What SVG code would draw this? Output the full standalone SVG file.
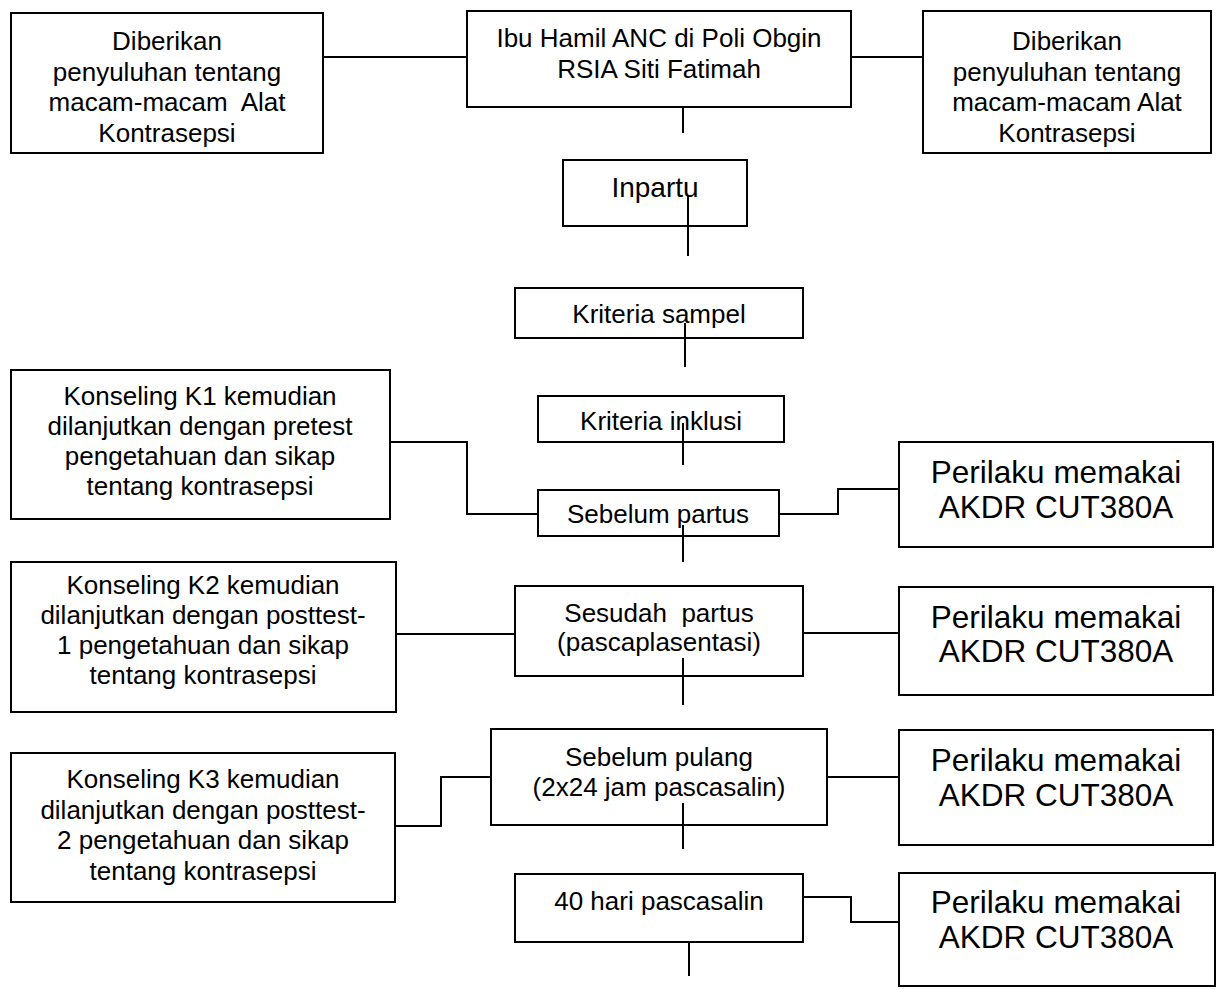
<svg xmlns="http://www.w3.org/2000/svg" width="1220" height="989" viewBox="0 0 1220 989">
<style>
rect{fill:#fff;stroke:#000;stroke-width:2}
.c path,.c line{fill:none;stroke:#000;stroke-width:2}
text{font-family:"Liberation Sans",Arial,sans-serif;font-size:26px;fill:#000;text-anchor:middle}
.big{font-size:31.5px}
.mid{font-size:28px}
</style>
<rect x="0" y="0" width="1220" height="989" style="stroke:none"/>
<g id="n_diberikan_left"><rect x="11" y="13" width="312" height="140"/>
<text x="167"><tspan x="167" y="50">Diberikan</tspan><tspan x="167" y="80.5">penyuluhan tentang</tspan><tspan x="167" y="111" xml:space="preserve">macam-macam  Alat</tspan><tspan x="167" y="141.5">Kontrasepsi</tspan></text></g>
<g id="n_ibu"><rect x="467" y="11" width="384" height="96"/>
<text><tspan x="659" y="47">Ibu Hamil ANC di Poli Obgin</tspan><tspan x="659" y="78">RSIA Siti Fatimah</tspan></text></g>
<g id="n_diberikan_right"><rect x="923" y="11" width="288" height="142"/>
<text><tspan x="1067" y="50">Diberikan</tspan><tspan x="1067" y="80.5">penyuluhan tentang</tspan><tspan x="1067" y="111">macam-macam Alat</tspan><tspan x="1067" y="141.5">Kontrasepsi</tspan></text></g>
<g id="n_inpartu"><rect x="563" y="160" width="184" height="66"/>
<text class="mid" x="655" y="197">Inpartu</text></g>
<g id="n_kriteria_sampel"><rect x="515" y="288" width="288" height="50"/>
<text x="659" y="323">Kriteria sampel</text></g>
<g id="n_kriteria_inklusi"><rect x="538" y="396" width="246" height="46"/>
<text x="661" y="430">Kriteria inklusi</text></g>
<g id="n_k1"><rect x="11" y="370" width="379" height="149"/>
<text><tspan x="200" y="405">Konseling K1 kemudian</tspan><tspan x="200" y="435">dilanjutkan dengan pretest</tspan><tspan x="200" y="465">pengetahuan dan sikap</tspan><tspan x="200" y="495">tentang kontrasepsi</tspan></text></g>
<g id="n_sebelum_partus"><rect x="538" y="490" width="241" height="46"/>
<text x="658" y="523">Sebelum partus</text></g>
<g id="n_perilaku1"><rect x="899" y="442" width="314" height="105"/>
<text class="big"><tspan x="1056" y="483">Perilaku memakai</tspan><tspan x="1056" y="518">AKDR CUT380A</tspan></text></g>
<g id="n_k2"><rect x="11" y="562" width="385" height="150"/>
<text><tspan x="203" y="594">Konseling K2 kemudian</tspan><tspan x="203" y="624">dilanjutkan dengan posttest-</tspan><tspan x="203" y="654">1 pengetahuan dan sikap</tspan><tspan x="203" y="684">tentang kontrasepsi</tspan></text></g>
<g id="n_sesudah_partus"><rect x="515" y="586" width="288" height="90"/>
<text><tspan x="659" y="622" xml:space="preserve">Sesudah  partus</tspan><tspan x="659" y="651">(pascaplasentasi)</tspan></text></g>
<g id="n_perilaku2"><rect x="899" y="587" width="314" height="108"/>
<text class="big"><tspan x="1056" y="628">Perilaku memakai</tspan><tspan x="1056" y="662">AKDR CUT380A</tspan></text></g>
<g id="n_sebelum_pulang"><rect x="491" y="729" width="336" height="96"/>
<text><tspan x="659" y="766">Sebelum pulang</tspan><tspan x="659" y="796">(2x24 jam pascasalin)</tspan></text></g>
<g id="n_k3"><rect x="11" y="753" width="384" height="149"/>
<text><tspan x="203" y="788">Konseling K3 kemudian</tspan><tspan x="203" y="819">dilanjutkan dengan posttest-</tspan><tspan x="203" y="849">2 pengetahuan dan sikap</tspan><tspan x="203" y="880">tentang kontrasepsi</tspan></text></g>
<g id="n_perilaku3"><rect x="899" y="730" width="314" height="115"/>
<text class="big"><tspan x="1056" y="771">Perilaku memakai</tspan><tspan x="1056" y="806">AKDR CUT380A</tspan></text></g>
<g id="n_40hari"><rect x="515" y="874" width="288" height="68"/>
<text x="659" y="910">40 hari pascasalin</text></g>
<g id="n_perilaku4"><rect x="899" y="873" width="316" height="113"/>
<text class="big"><tspan x="1056" y="913">Perilaku memakai</tspan><tspan x="1056" y="948">AKDR CUT380A</tspan></text></g>
<g id="connectors" class="c">
<line x1="323" y1="57" x2="467" y2="57"/>
<line x1="851" y1="57" x2="923" y2="57"/>
<line x1="683" y1="107" x2="683" y2="133"/>
<line x1="688" y1="195" x2="688" y2="256"/>
<line x1="685" y1="323" x2="685" y2="367"/>
<line x1="683" y1="423" x2="683" y2="465"/>
<path d="M390 442 H467 V514 H538"/>
<path d="M779 514 H838 V489 H899"/>
<line x1="683" y1="525" x2="683" y2="562"/>
<line x1="396" y1="634" x2="515" y2="634"/>
<line x1="803" y1="633" x2="899" y2="633"/>
<line x1="683" y1="658" x2="683" y2="705"/>
<path d="M395 826 H441 V777 H491"/>
<line x1="827" y1="777" x2="899" y2="777"/>
<line x1="683" y1="803" x2="683" y2="849"/>
<path d="M803 897 H851 V922 H899"/>
<line x1="689" y1="942" x2="689" y2="976"/>
</g>
</svg>
